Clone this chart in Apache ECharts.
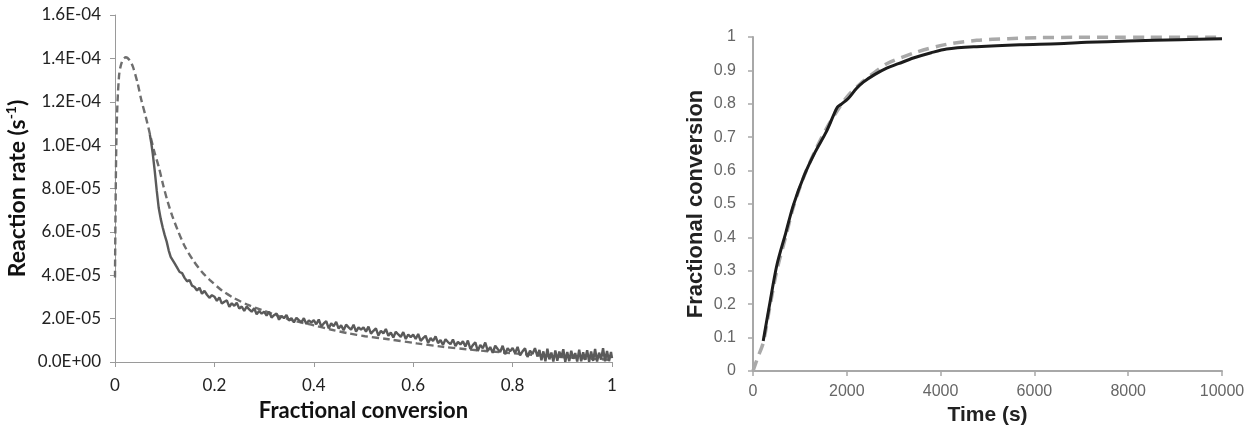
<!DOCTYPE html>
<html>
<head>
<meta charset="utf-8">
<script src="https://cdn.jsdelivr.net/npm/echarts@6/dist/echarts.min.js"></script>
<style>
  html, body { margin: 0; padding: 0; background: #ffffff; }
  #chart { width: 1256px; height: 437px; }
</style>
</head>
<body>
<div id="chart"></div>
<script>
// ---------- LEFT PANEL: reaction rate vs fractional conversion ----------
// rate values are in units of 1e-6 s^-1 (axis labels show the real values)
const leftYTickLabels = ['0.0E+00','2.0E-05','4.0E-05','6.0E-05','8.0E-05','1.0E-04','1.2E-04','1.4E-04','1.6E-04'];
const leftXTickLabels = ['0','0.2','0.4','0.6','0.8','1'];

// model (dashed)
const leftModel = [
  [0,39],[0.003,105],[0.008,131.6],[0.014,138.5],[0.022,140.5],[0.030,139],[0.036,136.2],
  [0.045,129],[0.053,120.8],[0.062,113],[0.070,105.4],[0.079,97],[0.088,90],[0.097,81.5],
  [0.105,74.7],[0.115,67.5],[0.126,60.9],[0.140,53.5],[0.157,47],[0.175,41.5],[0.191,37.8],
  [0.215,33],[0.240,29.4],[0.265,26.6],[0.295,24],[0.330,21.2],[0.364,18.8],[0.400,16.9],
  [0.434,15],[0.470,13.2],[0.503,11.9],[0.550,10.5],[0.607,8.6],[0.660,7.0],[0.711,5.8],
  [0.780,4.4],[0.850,3.1],[0.920,2.0],[1.0,1.0]
];

// measured (solid, noisy)
const leftMeasured = [
  [0.070,105],[0.073,101],[0.076,96],[0.080,88],[0.084,79],[0.088,71],[0.092,66],[0.096,62],
  [0.100,58.5],[0.104,55.5],[0.108,51.5],[0.112,48.5],[0.116,47],[0.120,45.5],[0.125,43.5],
  [0.130,41.5],[0.135,41.0],[0.140,38.8],[0.145,37.2],[0.150,37.8],[0.155,35.2],[0.160,34.6],
  [0.165,33.0],[0.170,34.2],[0.175,31.5],[0.180,32.8],[0.185,31.0],[0.190,29.6],[0.195,30.8],
  [0.200,30.1],[0.205,28.2],[0.210,29.8],[0.215,26.9],[0.220,27.8],[0.225,28.4],[0.230,25.4],
  [0.235,27.1],[0.240,25.9],[0.245,27.3],[0.250,24.6],[0.255,25.6],[0.260,23.6],[0.265,25.5],
  [0.270,24.3],[0.275,23.2],[0.280,24.8],[0.285,22.0],[0.290,23.5],[0.295,22.3],[0.300,23.2],
  [0.305,21.4],[0.310,23.2],[0.315,20.5],[0.320,21.6],[0.325,22.4],[0.330,19.5],[0.335,21.3],
  [0.340,20.2],[0.345,21.7],[0.350,19.1],[0.355,20.2],[0.360,18.3],[0.365,20.4],[0.370,19.3],
  [0.375,18.3],[0.380,20.2],[0.385,17.5],[0.390,19.2],[0.395,18.2],[0.400,19.3],[0.405,17.4],
  [0.410,19.6],[0.415,16.4],[0.420,17.8],[0.425,18.8],[0.430,15.5],[0.435,17.8],[0.440,16.5],
  [0.445,18.5],[0.450,15.4],[0.455,16.9],[0.460,14.6],[0.465,17.2],[0.470,16.0],[0.475,14.9],
  [0.480,17.2],[0.485,14.0],[0.490,16.0],[0.495,14.9],[0.500,16.0],[0.505,14.0],[0.510,16.3],
  [0.515,13.1],[0.520,14.4],[0.525,15.5],[0.530,12.2],[0.535,14.4],[0.540,13.2],[0.545,15.2],
  [0.550,12.1],[0.555,13.6],[0.560,11.3],[0.565,13.9],[0.570,12.7],[0.575,11.6],[0.580,13.8],
  [0.585,10.6],[0.590,12.7],[0.595,11.5],[0.600,12.6],[0.605,10.6],[0.610,12.9],[0.615,9.7],
  [0.620,11.0],[0.625,12.1],[0.630,8.8],[0.635,11.0],[0.640,9.7],[0.645,11.8],[0.650,8.7],
  [0.655,10.1],[0.660,7.9],[0.665,10.5],[0.670,9.2],[0.675,8.2],[0.680,10.4],[0.685,7.3],
  [0.690,9.3],[0.695,8.1],[0.700,9.6],[0.705,7.1],[0.710,9.9],[0.715,6.0],[0.720,7.8],
  [0.725,9.1],[0.730,5.1],[0.735,7.9],[0.740,6.3],[0.745,9.0],[0.750,5.1],[0.755,6.9],
  [0.760,4.2],[0.765,7.5],[0.770,6.0],[0.775,4.6],[0.780,7.5],[0.785,3.6],[0.790,6.4],
  [0.795,4.9],[0.800,6.5],[0.805,4.1],[0.810,7.0],[0.815,3.0],[0.820,4.9],[0.825,6.3],
  [0.830,2.3],[0.835,5.2],[0.840,3.7],[0.845,6.4],[0.850,2.6],[0.854,5.6],[0.858,0.8],
  [0.862,4.9],[0.866,0.3],[0.870,6.1],[0.874,1.2],[0.878,4.4],[0.882,0.2],[0.886,5.3],
  [0.890,0.6],[0.894,4.8],[0.898,2.1],[0.902,5.9],[0.906,0.1],[0.910,4.6],[0.914,0.4],
  [0.918,5.2],[0.922,1.5],[0.926,4.1],[0.930,0.2],[0.934,5.7],[0.938,0.3],[0.942,4.5],
  [0.946,1.0],[0.950,5.4],[0.954,0.1],[0.958,4.9],[0.962,0.5],[0.966,6.0],[0.970,0.2],
  [0.974,4.3],[0.978,1.1],[0.982,6.4],[0.986,0.3],[0.990,5.1],[0.994,0.4],[0.998,4.6],
  [1.000,1.8]
];

// ---------- RIGHT PANEL: fractional conversion vs time ----------
const rightXTickLabels = ['0','2000','4000','6000','8000','10000'];
const rightYTickLabels = ['0','0.1','0.2','0.3','0.4','0.5','0.6','0.7','0.8','0.9','1'];

const rightMeasured = [
  [218,0.09],[350,0.196],[507,0.316],[703,0.416],[859,0.496],[1093,0.586],[1327,0.656],
  [1562,0.716],[1718,0.766],[1800,0.79],[1875,0.798],[2031,0.816],[2200,0.845],[2352,0.865],
  [2600,0.888],[2851,0.907],[3100,0.92],[3418,0.937],[3800,0.953],[4130,0.964],[4770,0.971],
  [5693,0.977],[6500,0.98],[7115,0.984],[8000,0.988],[9104,0.992],[10000,0.995]
];

const rightModel = [
  [0,0],[100,0.04],[218,0.085],[350,0.185],[507,0.30],[703,0.405],[859,0.49],[1093,0.585],
  [1327,0.66],[1562,0.725],[1800,0.78],[2031,0.825],[2352,0.868],[2600,0.895],[2851,0.92],
  [3490,0.955],[4130,0.978],[4770,0.99],[5444,0.995],[6083,0.998],[6902,0.999],[7755,0.999],
  [8394,0.999],[10000,0.999]
];

const chart = echarts.init(document.getElementById('chart'), null, { renderer: 'canvas' });

const leftFont = 'Lato, "Open Sans", sans-serif';
const rightFont = '"Liberation Sans", Arial, sans-serif';

chart.setOption({
  animation: false,
  backgroundColor: '#ffffff',
  grid: [
    { left: 115, top: 15, width: 497, height: 347 },
    { left: 753, top: 37, width: 469, height: 334 }
  ],
  xAxis: [
    {
      gridIndex: 0, type: 'value', min: 0, max: 1, interval: 0.2,
      name: 'Fractional conversion', nameLocation: 'middle', nameGap: 38,
      nameTextStyle: { fontFamily: leftFont, fontWeight: 'bold', fontSize: 22, color: '#111' },
      axisLine: { lineStyle: { color: '#9a9a9a', width: 1 } },
      axisTick: { show: true, inside: false, length: 5, lineStyle: { color: '#9a9a9a' } },
      splitLine: { show: false },
      axisLabel: {
        margin: 15, fontFamily: leftFont, fontSize: 17, color: '#222',
        formatter: v => leftXTickLabels[Math.round(v / 0.2)]
      }
    },
    {
      gridIndex: 1, type: 'value', min: 0, max: 10000, interval: 2000,
      name: 'Time (s)', nameLocation: 'middle', nameGap: 34,
      nameTextStyle: { fontFamily: rightFont, fontWeight: 'bold', fontSize: 21, color: '#222' },
      axisLine: { lineStyle: { color: '#a8a8a8', width: 2 } },
      axisTick: { show: true, inside: false, length: 5, lineStyle: { color: '#a8a8a8', width: 1.5 } },
      splitLine: { show: false },
      axisLabel: {
        margin: 13, fontFamily: rightFont, fontSize: 16, color: '#666',
        formatter: v => rightXTickLabels[Math.round(v / 2000)]
      }
    }
  ],
  yAxis: [
    {
      gridIndex: 0, type: 'value', min: 0, max: 160, interval: 20,
      name: '{n|Reaction rate (s}{sup|-1}{n|)}', nameLocation: 'middle', nameGap: 84, nameRotate: 90,
      nameTextStyle: {
        rich: {
          n: { fontFamily: leftFont, fontWeight: 'bold', fontSize: 23, color: '#111', lineHeight: 27 },
          sup: { fontFamily: leftFont, fontWeight: 'bold', fontSize: 14, color: '#111', lineHeight: 14, verticalAlign: 'top' }
        }
      },
      axisLine: { show: true, lineStyle: { color: '#9a9a9a', width: 1 } },
      axisTick: { show: true, inside: false, length: 5, lineStyle: { color: '#9a9a9a' } },
      splitLine: { show: false },
      axisLabel: {
        margin: 14, fontFamily: leftFont, fontSize: 17, color: '#222',
        formatter: v => leftYTickLabels[Math.round(v / 20)]
      }
    },
    {
      gridIndex: 1, type: 'value', min: 0, max: 1, interval: 0.1,
      name: 'Fractional conversion', nameLocation: 'middle', nameGap: 46, nameRotate: 90,
      nameTextStyle: { fontFamily: rightFont, fontWeight: 'bold', fontSize: 22, color: '#222' },
      axisLine: { show: true, lineStyle: { color: '#a8a8a8', width: 2 } },
      axisTick: { show: true, inside: false, length: 5, lineStyle: { color: '#a8a8a8', width: 1.5 } },
      splitLine: { show: false },
      axisLabel: {
        margin: 17, fontFamily: rightFont, fontSize: 16, color: '#666',
        formatter: v => rightYTickLabels[Math.round(v / 0.1)]
      }
    }
  ],
  series: [
    {
      type: 'line', xAxisIndex: 0, yAxisIndex: 0, data: leftModel,
      showSymbol: false, symbol: 'none', clip: false, smooth: 0.3,
      lineStyle: { color: '#6e6e6e', width: 2.4, type: [7, 4] }, z: 2
    },
    {
      type: 'line', xAxisIndex: 0, yAxisIndex: 0, data: leftMeasured,
      showSymbol: false, symbol: 'none', clip: false,
      lineStyle: { color: '#5a5a5a', width: 2.4 }, z: 3
    },
    {
      type: 'line', xAxisIndex: 1, yAxisIndex: 1, data: rightModel,
      showSymbol: false, symbol: 'none', clip: false, smooth: 0.3,
      lineStyle: { color: '#a9a9a9', width: 3.5, type: [11, 7] }, z: 2
    },
    {
      type: 'line', xAxisIndex: 1, yAxisIndex: 1, data: rightMeasured,
      showSymbol: false, symbol: 'none', clip: false, smooth: 0.3,
      lineStyle: { color: '#1c1c1c', width: 3 }, z: 3
    }
  ]
});
</script>
</body>
</html>
